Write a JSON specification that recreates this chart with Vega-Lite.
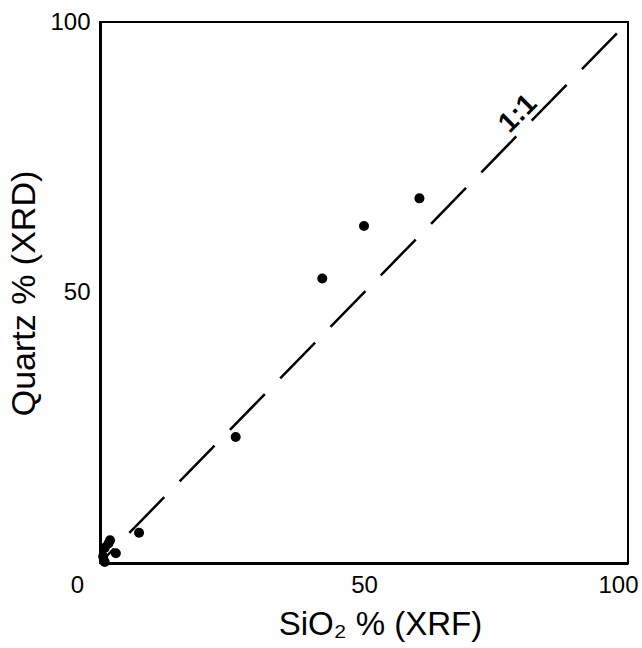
{
  "$schema": "https://vega.github.io/schema/vega-lite/v6.json",
  "autosize": {"type": "none"},
  "padding": {"left": 100, "top": 22, "right": 14, "bottom": 85},
  "width": 528,
  "height": 541,
  "background": "white",
  "config": {
    "view": {"stroke": "black", "strokeWidth": 2},
    "font": "Liberation Sans"
  },
  "datasets": {
    "points": [
      {"sio2": 25.7, "quartz": 23.3},
      {"sio2": 42.1, "quartz": 52.6},
      {"sio2": 50.0, "quartz": 62.3},
      {"sio2": 60.5, "quartz": 67.4},
      {"sio2": 7.4, "quartz": 5.6},
      {"sio2": 3.0, "quartz": 1.8},
      {"sio2": 1.6, "quartz": 3.6},
      {"sio2": 1.9, "quartz": 4.2},
      {"sio2": 0.9, "quartz": 2.8},
      {"sio2": 0.6, "quartz": 1.2},
      {"sio2": 0.9, "quartz": 0.2}
    ],
    "oneToOne": [
      {"sio2": 0, "quartz": 0},
      {"sio2": 100, "quartz": 100}
    ],
    "label": [
      {"sio2": 79.2, "quartz": 83.0, "text": "1:1"}
    ]
  },
  "layer": [
    {
      "data": {"name": "oneToOne"},
      "mark": {"type": "line", "color": "black", "strokeWidth": 2.5, "strokeDash": [50, 22], "strokeDashOffset": 30},
      "encoding": {
        "x": {
          "field": "sio2", "type": "quantitative",
          "scale": {"domain": [0, 100], "nice": false},
          "axis": {
            "values": [0, 50, 100],
            "grid": false,
            "ticks": false,
            "domainColor": "black",
            "domainWidth": 3,
            "labelFontSize": 24,
            "labelColor": "black",
            "labelPadding": 10,
            "labelOffset": {"condition": [{"test": "datum.value == 0", "value": -23}, {"test": "datum.value == 100", "value": -10}], "value": 0},
            "labelFlush": false,
            "labelBound": false,
            "labelOverlap": false,
            "title": "SiO₂ % (XRF)",
            "titleFontSize": 33,
            "titleFontWeight": "normal",
            "titleColor": "black",
            "titleX": 280,
            "titleY": 71,
            "titleAlign": "center",
            "titleBaseline": "alphabetic"
          }
        },
        "y": {
          "field": "quartz", "type": "quantitative",
          "scale": {"domain": [0, 100], "nice": false},
          "axis": {
            "values": [50, 100],
            "grid": false,
            "ticks": false,
            "domainColor": "black",
            "domainWidth": 3,
            "labelFontSize": 24,
            "labelColor": "black",
            "labelPadding": 10,
            "labelFlush": false,
            "labelBound": false,
            "labelOverlap": false,
            "title": "Quartz % (XRD)",
            "titleFontSize": 34,
            "titleFontWeight": "normal",
            "titleColor": "black",
            "titleAngle": -90,
            "titleX": -76,
            "titleY": 271,
            "titleAlign": "center",
            "titleBaseline": "middle"
          }
        }
      }
    },
    {
      "data": {"name": "points"},
      "mark": {"type": "circle", "color": "black", "opacity": 1, "size": 100},
      "encoding": {
        "x": {"field": "sio2", "type": "quantitative"},
        "y": {"field": "quartz", "type": "quantitative"}
      }
    },
    {
      "data": {"name": "label"},
      "mark": {"type": "text", "color": "black", "fontSize": 28, "fontWeight": "bold", "angle": -45, "align": "center", "baseline": "middle"},
      "encoding": {
        "x": {"field": "sio2", "type": "quantitative"},
        "y": {"field": "quartz", "type": "quantitative"},
        "text": {"field": "text"}
      }
    }
  ]
}
